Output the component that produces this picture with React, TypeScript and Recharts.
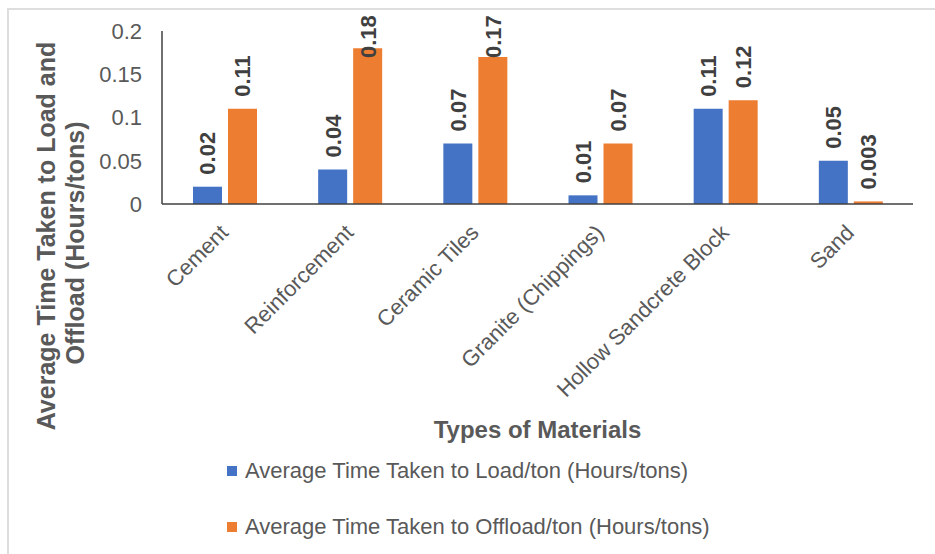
import React from 'react';
import { BarChart, Bar, XAxis, YAxis, Legend, LabelList, Label } from 'recharts';

const categories = ['Cement', 'Reinforcement', 'Ceramic Tiles', 'Granite (Chippings)', 'Hollow Sandcrete Block', 'Sand'];
const loadTimes = [0.02, 0.04, 0.07, 0.01, 0.11, 0.05];
const offloadTimes = [0.11, 0.18, 0.17, 0.07, 0.12, 0.003];
const yTicks = [0, 0.05, 0.1, 0.15, 0.2];

const LOAD_NAME = 'Average Time Taken to Load/ton (Hours/tons)';
const OFFLOAD_NAME = 'Average Time Taken to Offload/ton (Hours/tons)';

const data = categories.map((name, i) => ({ name, load: loadTimes[i], offload: offloadTimes[i] }));

const FONT = '"Liberation Sans", Arial, sans-serif';
const GREY = '#595959';
const DARK = '#404040';

// category names, slanted up to the right and ending under the tick
const CategoryTick = ({ x, y, payload }: any) => {
  const tx = x + 5;
  const ty = y + 22;
  return (
    <text
      x={tx}
      y={ty}
      transform={`rotate(-45, ${tx}, ${ty})`}
      textAnchor="end"
      fontSize={22}
      fontFamily={FONT}
      fill={GREY}
    >
      {payload.value}
    </text>
  );
};

// vertical value label; tall bars get their label pushed down so it stays in the frame
const ValueLabel = (props: any) => {
  const { x, y, width, value } = props;
  const cx = Number(x) + Number(width) / 2;
  const by = Math.max(Number(y) - 12, 58);
  return (
    <text
      x={cx}
      y={by}
      dy="0.36em"
      transform={`rotate(-90, ${cx}, ${by})`}
      textAnchor="start"
      fontSize={22}
      fontWeight="bold"
      fontFamily={FONT}
      fill={DARK}
    >
      {String(value)}
    </text>
  );
};

const YTitle = () => (
  <g fontFamily={FONT} fontSize={25} fontWeight="bold" fill={GREY}>
    <text x={55} y={236} transform="rotate(-90, 55, 236)" textAnchor="middle">
      Average Time Taken to Load and
    </text>
    <text x={84} y={243} transform="rotate(-90, 84, 243)" textAnchor="middle">
      Offload (Hours/tons)
    </text>
  </g>
);

const renderLegend = ({ payload }: any) => (
  <div style={{ fontFamily: FONT, fontSize: 22, color: GREY }}>
    {(payload || []).map((entry: any) => (
      <div key={entry.value} style={{ display: 'flex', alignItems: 'center', height: 56, whiteSpace: 'nowrap' }}>
        <span style={{ width: 10, height: 10, background: entry.color, marginRight: 8, display: 'inline-block' }} />
        <span>{entry.value}</span>
      </div>
    ))}
  </div>
);

export default function App() {
  return (
    <div style={{ position: 'absolute', left: 0, top: 0, width: 935, height: 554, overflow: 'hidden', background: '#fff' }}>
      <div
        style={{
          position: 'absolute',
          left: 7,
          top: 8,
          width: 1000,
          height: 1000,
          borderLeft: '2px solid #dedede',
          borderTop: '2px solid #dedede',
        }}
      />
      <div style={{ position: 'absolute', left: 0, top: 0 }}>
        <BarChart
          width={935}
          height={554}
          data={data}
          margin={{ top: 31, right: 22, left: 0, bottom: 0 }}
          barSize={29}
          barGap={6}
        >
          <XAxis
            dataKey="name"
            height={350}
            interval={0}
            tickLine={false}
            axisLine={{ stroke: DARK, strokeWidth: 1.5 }}
            tick={<CategoryTick />}
          >
            <Label
              value="Types of Materials"
              position="insideBottom"
              offset={116}
              fill={GREY}
              fontSize={24}
              fontWeight="bold"
              fontFamily={FONT}
            />
          </XAxis>
          <YAxis
            width={162}
            domain={[0, 0.2]}
            ticks={yTicks}
            tickLine={false}
            tickMargin={14}
            axisLine={{ stroke: DARK, strokeWidth: 1.5 }}
            tick={{ fill: GREY, fontSize: 22, fontFamily: FONT }}
            tickFormatter={(v: number) => String(v)}
          >
            <Label content={() => <YTitle />} />
          </YAxis>
          <Legend
            verticalAlign="middle"
            align="center"
            layout="horizontal"
            content={renderLegend}
            wrapperStyle={{ left: 227, top: 443, width: 700 }}
          />
          <Bar dataKey="load" name={LOAD_NAME} fill="#4472C4" isAnimationActive={false}>
            <LabelList dataKey="load" content={<ValueLabel />} />
          </Bar>
          <Bar dataKey="offload" name={OFFLOAD_NAME} fill="#ED7D31" isAnimationActive={false}>
            <LabelList dataKey="offload" content={<ValueLabel />} />
          </Bar>
        </BarChart>
      </div>
    </div>
  );
}
